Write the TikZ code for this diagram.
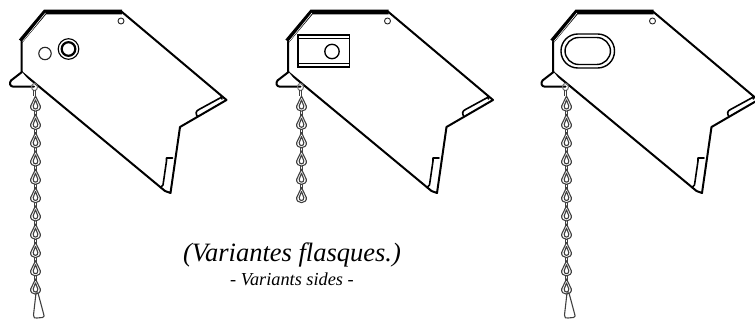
\documentclass[tikz,border=0pt]{standalone}
\usepackage{fontspec}
\setmainfont{Liberation Serif}
\tikzset{
  x=1pt,y=-1pt,
  outline/.style={draw=black,line width=2pt,line join=round,line cap=round,fill=white},
  thick rim/.style={draw=black,line width=4.6pt,line join=miter,line cap=butt},
  rim gap/.style={draw=white,line width=0.6pt,line join=miter},
  thin hole/.style={draw=black!85,line width=0.9pt,fill=white},
  link/.style={draw=black!75,line width=1.1pt,fill=white,line join=round},
  lip/.style={draw=black,line width=1.6pt,line join=round,line cap=round},
  caption/.style={inner sep=0pt,anchor=center},
  pics/plate/.style={code={
    \draw[outline] (21.5,72) -- (21.5,42) -- (45,12) -- (122,12) -- (226.5,100) -- (180,127) -- (170.5,193) -- (165,191) -- cycle;
    \draw[outline] (22,72) -- (11,80.5) .. controls (9,83) and (10,86.7) .. (13.5,86.7) -- (34,86.7);
    \draw[thick rim] (20.7,41) -- (45,12) -- (122,12);
    \draw[rim gap] (22.5,41.5) -- (45.5,13);
    \draw[lip] (221,96.5) -- (222,99) (221,97.5) -- (199,109.5) .. controls (195.5,111) and (195.5,114) .. (197.5,116.5);
    \draw[lip] (172.5,158) -- (166.5,158) -- (166.5,161) -- (163,185) -- (160.5,187.5);
    \draw[thin hole] (121,21) circle (3);
  }},
  pics/chainlink/.style={code={
    \draw[link] (0,-9) -- (-1.2,-6.5) -- (-4.8,1) .. controls (-5.4,4) and (-2.8,6.2) .. (0,6.2) .. controls (2.8,6.2) and (5.4,4) .. (4.8,1) -- (1.2,-6.5) -- cycle;
    \draw[link] (0,-5) -- (-2.3,1) .. controls (-2.6,3) and (-1.2,4) .. (0,4) .. controls (1.2,4) and (2.6,3) .. (2.3,1) -- cycle;
  }},
  pics/chainbar/.style={code={
    \draw[draw=black!75,line width=1.1pt] (-1,-7) -- (-1,3) (1,-7) -- (1,3);
  }},
  pics/chainring/.style={code={
    \draw[draw=black!55,line width=1pt] (0,0) ellipse (3 and 3.6);
    \draw[draw=black!75,line width=1.1pt] (-1,3) -- (-1,9) (1,3) -- (1,9);
  }},
  pics/chainhook/.style={code={
    \draw[draw=black!75,line width=1.1pt,line join=round] (0,0) -- (-2.5,22) .. controls (-2.8,25) and (-1,25.5) .. (1,25) -- (6.5,24.5) .. controls (8.5,24) and (8.5,22.5) .. (7.5,20.5) -- (2,0) -- cycle;
  }},
}
\begin{document}
\begin{tikzpicture}
\useasboundingbox (0,0) rectangle (755,321);
% plates
\pic at (0,0) {plate};
\pic at (266.5,0) {plate};
\pic at (531.5,0) {plate};
% chains
\pic at (34.5,87) {chainring};
\foreach \i in {0,...,9}{
  \pic at (35.5,{105+18.3*\i+12}) {chainbar};
}
\foreach \i in {0,...,10}{
  \pic at (35.5,{105+18.3*\i}) {chainlink};
}
\pic at (36,293) {chainhook};
\pic at (300.5,87) {chainring};
\foreach \i in {0,...,4}{
  \pic at (301.5,{105+18.3*\i+12}) {chainbar};
}
\foreach \i in {0,...,5}{
  \pic at (301.5,{105+18.3*\i}) {chainlink};
}
\pic at (565.5,87) {chainring};
\foreach \i in {0,...,9}{
  \pic at (566.5,{105+18.3*\i+12}) {chainbar};
}
\foreach \i in {0,...,10}{
  \pic at (566.5,{105+18.3*\i}) {chainlink};
}
\pic at (567,293) {chainhook};
% variant 1
\draw[thin hole,line width=1.1pt] (45,53.5) circle (6.2);
\draw[draw=black,line width=1.1pt,fill=white] (68.5,49) circle (10.3);
\draw[draw=black,line width=2.2pt,fill=white] (68.5,49) circle (6.8);
% variant 2
\draw[draw=black,line width=1.5pt,fill=white] (298,35) rectangle (349.5,67);
\draw[draw=black,line width=1.1pt] (298,38.5) -- (349.5,38.5) (298,63.5) -- (349.5,63.5);
\draw[draw=black,line width=1.3pt] (332,51.5) circle (7.2);
% variant 3
\draw[draw=black,line width=1.4pt,fill=white,rounded corners=16.8pt] (561,34) rectangle (614.5,68);
\draw[draw=black,line width=1.4pt,rounded corners=13.8pt] (565,37.5) rectangle (610.5,64.5);
% captions
\node[caption,font=\fontsize{26.5}{28}\selectfont\itshape] (cap1) at (292,255) {(Variantes flasques.)};
\node[caption,font=\fontsize{18.3}{20}\selectfont\itshape] (cap2) at (292,279) {- Variants sides -};
\end{tikzpicture}
\end{document}
